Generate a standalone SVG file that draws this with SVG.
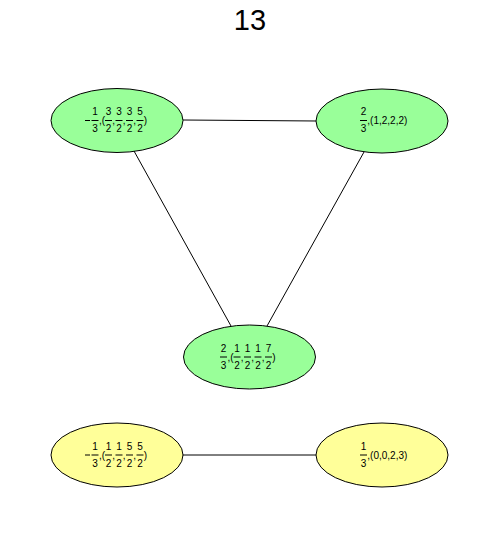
<svg xmlns="http://www.w3.org/2000/svg" width="500" height="538" viewBox="0 0 500 538">
<style>
.t{font-family:"Liberation Sans",Arial,sans-serif;font-size:10px;fill:#000}
.d{text-anchor:middle}
.bar{stroke:#000;stroke-width:1}
.e{stroke:#000;stroke-width:1;fill:none}
.g{fill:#99ff99;stroke:#000;stroke-width:1}
.y{fill:#ffff99;stroke:#000;stroke-width:1}
</style>
<rect width="500" height="538" fill="#fff"/>
<text x="250" y="30" font-family="Liberation Sans,Arial,sans-serif" font-size="29" text-anchor="middle">13</text>
<g id="edges">
<line class="e" x1="183" y1="120" x2="317" y2="121"/>
<line class="e" x1="134" y1="151" x2="231" y2="326"/>
<line class="e" x1="364" y1="152" x2="267" y2="326"/>
<line class="e" x1="183" y1="455" x2="317" y2="455"/>
</g>
<defs>
<g id="fracA">
<line class="bar" x1="91.5" y1="120.5" x2="98.5" y2="120.5"/>
<text class="t" x="99" y="124">,(</text>
<line class="bar" x1="105" y1="120.5" x2="112" y2="120.5"/>
<text class="t" x="112.3" y="124">,</text>
<line class="bar" x1="115.5" y1="120.5" x2="122.5" y2="120.5"/>
<text class="t" x="122.8" y="124">,</text>
<line class="bar" x1="126" y1="120.5" x2="133" y2="120.5"/>
<text class="t" x="133.3" y="124">,</text>
<line class="bar" x1="136.5" y1="120.5" x2="143.5" y2="120.5"/>
<text class="t" x="143.7" y="124">)</text>
</g>
</defs>
<g id="nodeA">
<ellipse class="g" cx="117" cy="120.5" rx="66" ry="32"/>
<line class="bar" x1="85" y1="120.5" x2="90" y2="120.5"/>
<use href="#fracA"/>
<text class="t d" x="95" y="115">1</text><text class="t d" x="95" y="132">3</text>
<text class="t d" x="108.5" y="115">3</text><text class="t d" x="108.5" y="132">2</text>
<text class="t d" x="119" y="115">3</text><text class="t d" x="119" y="132">2</text>
<text class="t d" x="129.5" y="115">3</text><text class="t d" x="129.5" y="132">2</text>
<text class="t d" x="140" y="115">5</text><text class="t d" x="140" y="132">2</text>
</g>
<g id="nodeB">
<ellipse class="g" cx="382" cy="121" rx="66" ry="32"/>
<text class="t d" x="363.5" y="115">2</text>
<line class="bar" x1="360" y1="120.5" x2="367" y2="120.5"/>
<text class="t d" x="363.5" y="132">3</text>
<text class="t" x="367.3" y="124">,(1,2,2,2)</text>
</g>
<g id="nodeC">
<ellipse class="g" cx="249.5" cy="357" rx="66" ry="32"/>
<use href="#fracA" transform="translate(128.5,236.5)"/>
<text class="t d" x="223.5" y="351.5">2</text><text class="t d" x="223.5" y="368.5">3</text>
<text class="t d" x="237" y="351.5">1</text><text class="t d" x="237" y="368.5">2</text>
<text class="t d" x="247.5" y="351.5">1</text><text class="t d" x="247.5" y="368.5">2</text>
<text class="t d" x="258" y="351.5">1</text><text class="t d" x="258" y="368.5">2</text>
<text class="t d" x="268.5" y="351.5">7</text><text class="t d" x="268.5" y="368.5">2</text>
</g>
<g id="nodeD">
<ellipse class="y" cx="117" cy="455" rx="66" ry="32"/>
<line class="bar" x1="85" y1="455" x2="90" y2="455"/>
<use href="#fracA" transform="translate(0,334.5)"/>
<text class="t d" x="95" y="449.5">1</text><text class="t d" x="95" y="466.5">3</text>
<text class="t d" x="108.5" y="449.5">1</text><text class="t d" x="108.5" y="466.5">2</text>
<text class="t d" x="119" y="449.5">1</text><text class="t d" x="119" y="466.5">2</text>
<text class="t d" x="129.5" y="449.5">5</text><text class="t d" x="129.5" y="466.5">2</text>
<text class="t d" x="140" y="449.5">5</text><text class="t d" x="140" y="466.5">2</text>
</g>
<g id="nodeE">
<ellipse class="y" cx="382" cy="455" rx="66" ry="32"/>
<text class="t d" x="363.5" y="449.5">1</text>
<line class="bar" x1="360" y1="455" x2="367" y2="455"/>
<text class="t d" x="363.5" y="466.5">3</text>
<text class="t" x="367.3" y="458.5">,(0,0,2,3)</text>
</g>
</svg>
